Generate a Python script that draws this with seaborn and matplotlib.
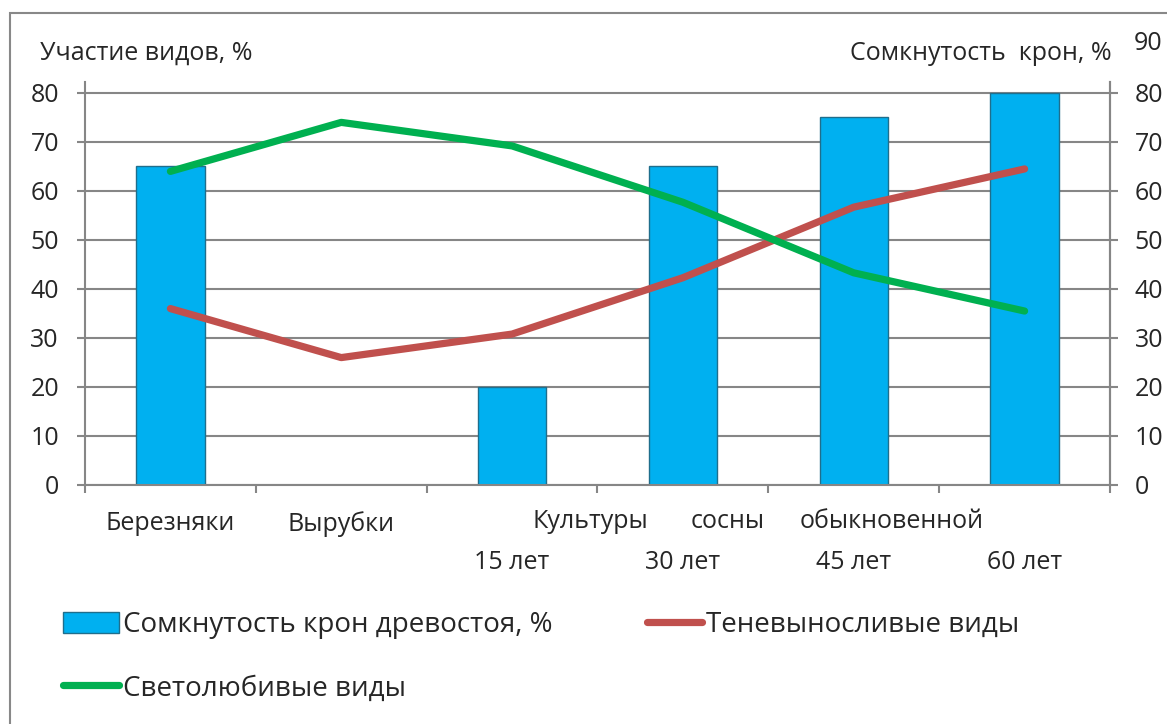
import numpy as np
import pandas as pd
import matplotlib
matplotlib.use("Agg")
import matplotlib.pyplot as plt
import matplotlib.transforms as mtransforms
from matplotlib.patches import Patch, Rectangle
from matplotlib.lines import Line2D
import seaborn as sns

# ---- data ----
categories = ["Березняки", "Вырубки", "15 лет", "30 лет", "45 лет", "60 лет"]
canopy = [65, 0, 20, 65, 75, 80]            # Сомкнутость крон древостоя, %
shade_tolerant = [36, 26, 30.8, 42.3, 56.7, 64.5]   # Теневыносливые виды
light_loving = [64, 74, 69.2, 57.7, 43.3, 35.5]     # Светолюбивые виды
group_words = ["Культуры", "сосны", "обыкновенной"]
left_ticks = [0, 10, 20, 30, 40, 50, 60, 70, 80]
right_ticks = [0, 10, 20, 30, 40, 50, 60, 70, 80]
right_extra_tick = 90

sns.set_theme(style="white")
plt.rcParams["font.family"] = ["Open Sans", "DejaVu Sans"]
FS = 18
LFS = 20

W, H = 1167, 724
fig = plt.figure(figsize=(W / 100, H / 100), dpi=100)
ax = fig.add_axes([85 / W, 1 - 485 / H, 1025 / W, (485 - 82.2) / H])

GRID = "#868686"
BAR = "#00B0F0"
BAR_EDGE = "#1F6E8C"
RED = "#C0504D"
GREEN = "#00B050"

df = pd.DataFrame({"cat": categories, "canopy": canopy})
sns.barplot(data=df, x="cat", y="canopy", ax=ax, color=BAR, width=0.4,
            edgecolor=BAR_EDGE, linewidth=1.0, saturation=1, zorder=2)

pos = np.arange(len(categories))
lines_df = pd.DataFrame({"pos": pos, "red": shade_tolerant, "green": light_loving})
sns.lineplot(data=lines_df, x="pos", y="red", ax=ax, color=RED, linewidth=5.2,
             solid_capstyle="round", zorder=3)
sns.lineplot(data=lines_df, x="pos", y="green", ax=ax, color=GREEN, linewidth=5.2,
             solid_capstyle="round", zorder=3)

ax.set_xlim(-0.5, len(categories) - 0.5)
ax.set_ylim(0, 82.2)
ax.set_yticks(left_ticks)
ax.set_yticklabels([str(t) for t in left_ticks], fontsize=FS)
ax.yaxis.grid(True, color=GRID, linewidth=1.5, zorder=0)
ax.set_axisbelow(True)
ax.set_xlabel("")
ax.set_ylabel("")
ax.spines["top"].set_visible(False)
for s in ["left", "right", "bottom"]:
    ax.spines[s].set_color(GRID)
    ax.spines[s].set_linewidth(1.5)
ax.tick_params(axis="y", which="major", direction="out", length=5.8, width=1.5,
               color=GRID, pad=13, labelsize=FS, left=True)

# x ticks: labels at category centres, marks at boundaries
ax.set_xticks(pos)
ax.set_xticklabels(categories, fontsize=FS)
ax.set_xticks(np.arange(-0.5, len(categories), 1.0), minor=True)
ax.tick_params(axis="x", which="major", length=0, pad=18.5)
ax.tick_params(axis="x", which="minor", direction="out", length=5.8, width=1.5,
               color=GRID, bottom=True)
offset = mtransforms.ScaledTranslation(0, -39 / 100, fig.dpi_scale_trans)
for lbl in ax.get_xticklabels()[2:]:
    lbl.set_transform(lbl.get_transform() + offset)

# first label row for the pine-culture group
trans = mtransforms.blended_transform_factory(ax.transData, fig.transFigure)
for word, xpos in zip(group_words, [2.46, 3.26, 4.22]):
    ax.text(xpos, 1 - 522 / H, word, transform=trans, ha="center", va="center",
            fontsize=FS, clip_on=False)

# right axis
ax2 = ax.twinx()
ax2.set_ylim(ax.get_ylim())
ax2.set_yticks(right_ticks)
ax2.set_yticklabels([str(t) for t in right_ticks], fontsize=FS)
ax2.tick_params(axis="y", direction="out", length=5.8, width=1.5, color=GRID,
                pad=12, labelsize=FS, right=True)
for s in ["top", "left", "bottom"]:
    ax2.spines[s].set_visible(False)
ax2.spines["right"].set_color(GRID)
ax2.spines["right"].set_linewidth(1.5)
ax2.grid(False)
ax2.text(1.0, right_extra_tick, str(right_extra_tick),
         transform=mtransforms.blended_transform_factory(ax2.transAxes, ax2.transData)
         + mtransforms.ScaledTranslation(24 / 100, 0, fig.dpi_scale_trans),
         ha="left", va="center", fontsize=FS, clip_on=False)

# axis titles
fig.text(40 / W, 1 - 53 / H, "Участие видов, %", ha="left", va="center", fontsize=FS)
fig.text(1112 / W, 1 - 53 / H, "Сомкнутость  крон, %", ha="right", va="center", fontsize=FS)

# legend (column-major: bar, green in column 1; red in column 2)
h_bar = Patch(facecolor=BAR, edgecolor=BAR_EDGE, linewidth=1.0)
h_red = Line2D([0], [0], color=RED, linewidth=5.2, solid_capstyle="round")
h_green = Line2D([0], [0], color=GREEN, linewidth=5.2, solid_capstyle="round")
fig.legend([h_bar, h_green, h_red],
           ["Сомкнутость крон древостоя, %", "Светолюбивые виды", "Теневыносливые виды"],
           loc="upper left", bbox_to_anchor=(52 / W, 1 - 600 / H),
           ncol=2, frameon=False, fontsize=LFS, handlelength=2.0, handleheight=0.75,
           handletextpad=0.15, columnspacing=3.4, labelspacing=1.27, borderaxespad=0)

# outer chart border
fig.patches.append(Rectangle((10 / W, -0.05), 1.2, 1.05 - 13 / H, transform=fig.transFigure,
                             fill=False, edgecolor="#888888", linewidth=1.5))

fig.savefig("out.png", dpi=100)
